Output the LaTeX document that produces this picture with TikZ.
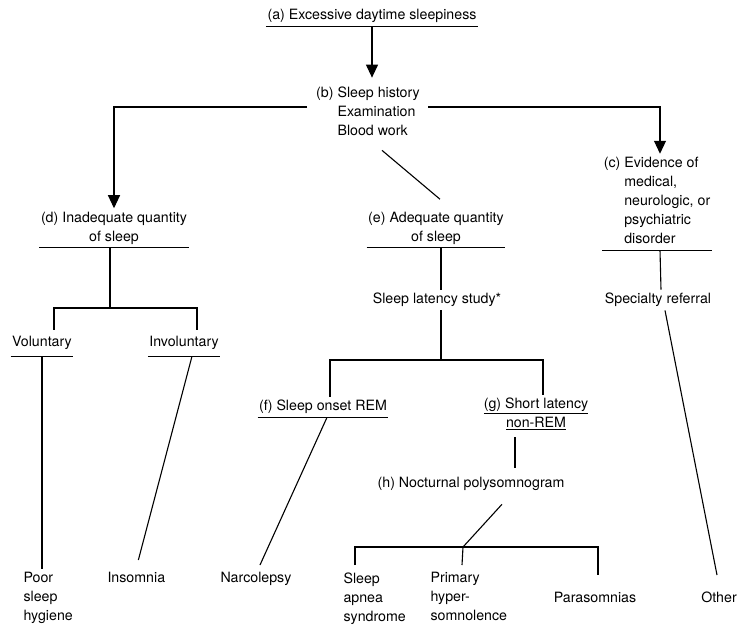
\documentclass[tikz,border=0pt]{standalone}
\usepackage{fontspec}
\setmainfont{TeX Gyre Heros}
\usetikzlibrary{arrows.meta}

\begin{document}
\begin{tikzpicture}[x=1pt,y=-1pt,line width=1.1pt,
  txt/.style={font={\fontsize{14.2pt}{19pt}\selectfont}, inner xsep=1pt, inner ysep=3pt},
  arr/.style={-{Triangle[length=13pt,width=12pt]}}]
\useasboundingbox (0,0) rectangle (739,624);

% Top of the chart
\node[txt] (a) at (372,16) {(a) Excessive daytime sleepiness};
\node[txt, align=left] (b) at (368,113) {(b) Sleep history\\\phantom{(b)\ }Examination\\\phantom{(b)\ }Blood work};

% Three outcomes of the work-up
\node[txt, align=center] (d) at (114,228) {(d) Inadequate quantity\\of sleep};
\node[txt, align=center] (e) at (436,228) {(e) Adequate quantity\\of sleep};
\node[txt, align=left] (c) at (657,202) {(c) Evidence of\\\phantom{(c)\ }medical,\\\phantom{(c)\ }neurologic, or\\\phantom{(c)\ }psychiatric\\\phantom{(c)\ }disorder};

% Second level
\node[txt, inner ysep=6pt] (vol) at (42,343) {Voluntary};
\node[txt, inner ysep=6pt] (invol) at (184,343) {Involuntary};
\node[txt] (sls) at (437,300) {Sleep latency study*};
\node[txt] (sr) at (658,300) {Specialty referral};
\node[txt] (f) at (323,407) {(f) Sleep onset REM};
\node[txt, align=center] (g) at (536,414) {\underline{(g) Short latency}\\\underline{non-REM}};
\node[txt] (h) at (471,484) {(h) Nocturnal polysomnogram};

% Diagnoses along the bottom
\node[txt, align=left, anchor=north west] (poor) at (22,569) {Poor\\sleep\\hygiene};
\node[txt, anchor=north west] (ins) at (106,569) {Insomnia};
\node[txt, anchor=north west] (narc) at (219,569) {Narcolepsy};
\node[txt, align=left, anchor=north west] (apnea) at (342,569) {Sleep\\apnea\\syndrome};
\node[txt, align=left, anchor=north west] (prim) at (429,569) {Primary\\hyper-\\somnolence};
\node[txt] (para) at (595,597) {Parasomnias};
\node[txt] (other) at (719,597) {Other};

% Underlines
\foreach \n in {a,d,e,c,vol,invol,f}
  \draw (\n.south west) -- (\n.south east);

% Branch points
\coordinate (bl) at (307,107);
\coordinate (br) at (428,107);
\coordinate (dsplit) at (110,308);
\coordinate (lsplit) at (441,360);
\coordinate (hsplit) at (463,547);

% Arrows from the history
\draw[arr, shorten >=6pt] (a.south) -- (a.south |- b.north);
\draw[arr] (bl) -| (d.north);
\draw[arr] (br) -| ([xshift=3pt]c.north);
\draw ([xshift=14pt,yshift=-8pt]b.south) -- ([xshift=4pt,yshift=9pt]e.north);

% Inadequate sleep
\draw ([xshift=-4pt]d.south) -- (dsplit);
\draw ([xshift=12pt]vol.north) |- (dsplit) -| ([xshift=13pt]invol.north);
\draw (vol.south) -- (vol.south |- poor.north);
\draw ([xshift=8pt]invol.south) -- ([xshift=2pt,yshift=9pt]ins.north);

% Adequate sleep
\draw ([xshift=5pt]e.south) -- ([xshift=4pt]sls.north);
\draw ([xshift=4pt]sls.south) -- (lsplit);
\draw ([xshift=7pt]f.north) |- (lsplit) -| ([xshift=7pt]g.north);
\draw ([xshift=4pt]f.south) -- ([xshift=4pt,yshift=4pt]narc.north);
\draw ([xshift=-21pt,yshift=-4pt]g.south) -- ([xshift=44pt,yshift=6pt]h.north);
\draw ([xshift=31pt,yshift=-10pt]h.south) -- (hsplit);
\draw ([xshift=13pt,yshift=4pt]apnea.north west) |- (hsplit);
\draw (hsplit) -| ([xshift=3pt,yshift=13pt]para.north);
\draw (hsplit) -- ([xshift=33pt,yshift=4pt]prim.north west);

% Medical referral
\draw ([xshift=3pt]c.south) -- ([xshift=3pt]sr.north);
\draw ([xshift=7pt]sr.south) -- ([xshift=-2pt,yshift=13pt]other.north);
\end{tikzpicture}
\end{document}
